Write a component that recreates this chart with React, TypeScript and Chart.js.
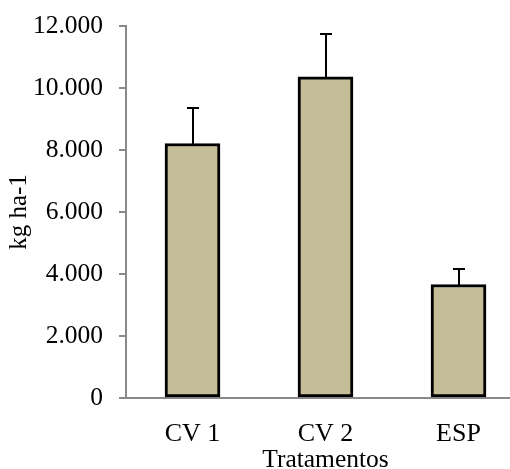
import React, { useEffect, useRef } from 'react';
import { Chart, registerables } from 'chart.js';

Chart.register(...registerables);

const categories = ['CV 1', 'CV 2', 'ESP'];
const yieldValues = [8210, 10360, 3660];
const errorTops = [9370, 11750, 4150];
const yMin = 0;
const yMax = 12000;
const yStep = 2000;

const FONT = "'Liberation Serif', 'Times New Roman', serif";
const AXIS_GREY = '#898989';

const formatThousands = (v: number) =>
  String(Math.round(v)).replace(/\B(?=(\d{3})+(?!\d))/g, '.');

const errorBarPlugin = {
  id: 'errorBars',
  afterDatasetsDraw(chart: any) {
    const { ctx } = chart;
    const yScale = chart.scales.y;
    const meta = chart.getDatasetMeta(0);
    ctx.save();
    ctx.strokeStyle = '#000000';
    ctx.lineWidth = 2;
    meta.data.forEach((bar: any, i: number) => {
      const cx = Math.round(bar.x);
      const yTop = Math.round(yScale.getPixelForValue(errorTops[i]));
      const yBase = bar.y + 1;
      ctx.beginPath();
      ctx.moveTo(cx, yBase);
      ctx.lineTo(cx, yTop);
      ctx.moveTo(cx - 6, yTop);
      ctx.lineTo(cx + 6, yTop);
      ctx.stroke();
    });
    ctx.restore();
  },
};

const CANVAS_W = 525;
const CANVAS_H = 469;

export default function App() {
  const canvasRef = useRef<HTMLCanvasElement>(null);

  useEffect(() => {
    if (!canvasRef.current) return;
    const chart = new Chart(canvasRef.current, {
      type: 'bar',
      data: {
        labels: categories,
        datasets: [
          {
            data: yieldValues,
            backgroundColor: '#C4BD97',
            borderColor: '#000000',
            borderWidth: 3,
            borderSkipped: false,
            barThickness: 55,
          },
        ],
      },
      plugins: [errorBarPlugin],
      options: {
        animation: false,
        responsive: false,
        maintainAspectRatio: false,
        layout: { padding: { top: 26, right: 0, left: 0, bottom: 0 } },
        plugins: {
          legend: { display: false },
          tooltip: { enabled: false },
          title: { display: false },
        },
        scales: {
          x: {
            grid: { display: false, drawTicks: false },
            border: { display: true, color: AXIS_GREY, width: 2 },
            ticks: {
              color: '#000000',
              padding: 21,
              font: { family: FONT, size: 26 },
              maxRotation: 0,
            },
            title: {
              display: true,
              text: 'Tratamentos',
              color: '#000000',
              font: { family: FONT, size: 25.5, lineHeight: 0.7 },
              padding: { top: 0, bottom: 0 },
            },
            afterFit: (scale: any) => {
              scale.height = 71;
              scale.paddingLeft = 0;
              scale.paddingRight = 0;
            },
          },
          y: {
            min: yMin,
            max: yMax,
            grid: {
              drawOnChartArea: false,
              drawTicks: true,
              tickLength: 7,
              color: AXIS_GREY,
              lineWidth: 2,
            },
            border: { display: true, color: AXIS_GREY, width: 2 },
            ticks: {
              stepSize: yStep,
              color: '#000000',
              padding: 16,
              font: { family: FONT, size: 25.5 },
              callback: (v: any) => formatThousands(Number(v)),
            },
            title: {
              display: true,
              text: 'kg ha-1',
              color: '#000000',
              font: { family: FONT, size: 25 },
              padding: { top: 4, bottom: 0 },
            },
            afterFit: (scale: any) => {
              scale.width = 126;
              scale.paddingTop = 0;
              scale.paddingBottom = 0;
            },
          },
        },
      },
    });
    return () => chart.destroy();
  }, []);

  return (
    <div
      style={{
        position: 'fixed',
        left: 0,
        top: 0,
        width: 510,
        height: 469,
        overflow: 'hidden',
        background: '#ffffff',
      }}
    >
      <canvas
        ref={canvasRef}
        width={CANVAS_W}
        height={CANVAS_H}
        style={{ width: CANVAS_W, height: CANVAS_H, display: 'block' }}
      />
    </div>
  );
}
